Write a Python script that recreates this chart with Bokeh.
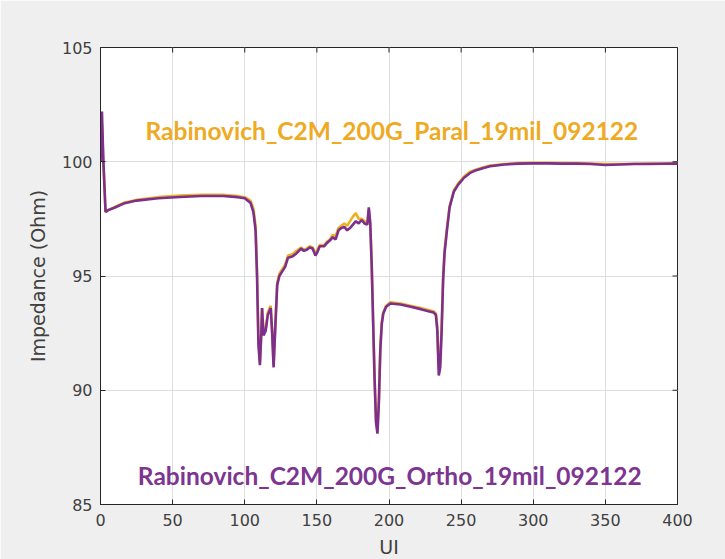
import math
from bokeh.plotting import figure
from bokeh.models import Range1d, FixedTicker, Label
from bokeh.embed import file_html
from bokeh.resources import INLINE

# ---- data ----
ui = [0, 1, 2, 3.5, 5, 10, 16, 25, 40, 55, 70, 85, 95, 100, 104, 106, 107.5,
      108.5, 109.5, 110.5, 111.5, 112, 113, 114.5, 116, 118, 119, 120, 121,
      122.5, 124, 126, 128, 130, 133, 136, 139, 141, 143, 145, 147, 149, 150,
      152, 155, 157, 159, 161, 163, 165, 167, 169, 171, 173, 175, 177, 179,
      181, 183, 185, 186, 187, 188, 189, 190, 191, 192, 193, 194, 195, 196,
      198, 201, 208, 215, 222, 228, 231, 232.5, 233.5, 234.5, 235.5, 236.5,
      237.5, 238.5, 240, 242, 245, 248, 252, 256, 260, 265, 270, 280, 290,
      300, 310, 320, 330, 340, 350, 360, 370, 380, 390, 400]

ortho = [100.0, 102.2, 100.0, 97.8, 97.87, 98.0, 98.17, 98.3, 98.4, 98.46,
         98.5, 98.5, 98.45, 98.4, 98.2, 97.8, 97.0,
         95.0, 92.0, 91.1, 92.5, 93.6, 92.4, 92.6, 93.3, 93.6, 92.5, 91.0, 92.5,
         94.6, 95.0, 95.2, 95.4, 95.8, 95.85, 96.0, 96.2, 96.1, 96.15, 96.25, 96.2, 95.9, 96.0,
         96.3, 96.3, 96.45, 96.55, 96.7, 96.6, 97.0, 97.1, 97.15, 97.0, 97.1, 97.25, 97.4, 97.3,
         97.45, 97.3, 97.25, 98.0, 97.3, 95.5, 93.0, 90.5, 88.6, 88.1, 89.5, 91.8, 92.9, 93.35,
         93.65, 93.8, 93.75, 93.65, 93.55, 93.45, 93.4, 93.3, 92.6, 90.65, 91.0, 92.6,
         94.8, 96.0, 96.9, 98.0, 98.7, 99.0, 99.3, 99.5, 99.62, 99.72, 99.8, 99.88, 99.92,
         99.93, 99.93, 99.92, 99.92, 99.9, 99.86, 99.88, 99.9, 99.9, 99.91, 99.92]

paral = [100.0, 101.6, 100.0, 97.8, 97.87, 98.02, 98.2, 98.33, 98.45, 98.52,
         98.55, 98.55, 98.5, 98.45, 98.3, 97.95, 97.2,
         95.3, 92.2, 91.2, 92.6, 93.6, 92.5, 92.7, 93.4, 93.7, 92.6, 91.1, 92.6,
         94.7, 95.1, 95.3, 95.5, 95.9, 95.95, 96.1, 96.25, 96.15, 96.2, 96.3, 96.25, 96.0, 96.1,
         96.35, 96.35, 96.5, 96.6, 96.8, 96.75, 97.1, 97.2, 97.3, 97.2, 97.4, 97.6, 97.75, 97.5,
         97.5, 97.4, 97.35, 97.9, 97.3, 95.5, 93.0, 90.5, 88.7, 88.2, 89.6, 91.9, 93.0, 93.4,
         93.7, 93.85, 93.8, 93.7, 93.6, 93.5, 93.45, 93.35, 92.8, 90.9, 91.2, 92.8,
         94.9, 96.1, 97.0, 98.05, 98.75, 99.05, 99.35, 99.55, 99.65, 99.75, 99.83, 99.9, 99.94,
         99.95, 99.95, 99.94, 99.94, 99.92, 99.9, 99.9, 99.91, 99.92, 99.92, 99.93]

x_ticks = [0, 50, 100, 150, 200, 250, 300, 350, 400]
y_ticks = [85, 90, 95, 100, 105]
x_min, x_max = 0, 400
y_min, y_max = 85, 105

paral_name = "Rabinovich_C2M_200G_Paral_19mil_092122"
ortho_name = "Rabinovich_C2M_200G_Ortho_19mil_092122"
paral_label_pos = (202, 101.37)
ortho_label_pos = (200.5, 86.27)

ORANGE = "#EDB120"
PURPLE = "#7E2F8E"
AX = "#262626"
TICK_FONT = "DejaVu Sans"

p = figure(frame_width=577, frame_height=457,
           min_border_left=100, min_border_right=48,
           min_border_top=47, min_border_bottom=55,
           x_range=Range1d(x_min, x_max), y_range=Range1d(y_min, y_max),
           output_backend="svg", toolbar_location=None,
           background_fill_color="white", border_fill_color="#efefef")

p.outline_line_color = AX
p.outline_line_width = 1

p.xgrid.ticker = FixedTicker(ticks=x_ticks)
p.ygrid.ticker = FixedTicker(ticks=y_ticks)
p.grid.grid_line_color = "#dedede"
p.grid.grid_line_width = 1

p.line(ui, paral, line_color=ORANGE, line_width=2.6)
p.line(ui, ortho, line_color=PURPLE, line_width=2.6)

# inward ticks on the top and right edges of the box
p.ray(x=x_ticks, y=[y_max] * len(x_ticks), length=5, length_units="screen",
      angle=-math.pi / 2, line_color=AX, line_width=1)
p.ray(x=[x_max] * len(y_ticks), y=y_ticks, length=5, length_units="screen",
      angle=math.pi, line_color=AX, line_width=1)

p.xaxis.ticker = FixedTicker(ticks=x_ticks)
p.yaxis.ticker = FixedTicker(ticks=y_ticks)
p.axis.minor_tick_line_color = None
p.axis.major_tick_in = 5
p.axis.major_tick_out = 0
p.axis.axis_line_color = AX
p.axis.major_tick_line_color = AX
p.axis.major_label_text_font = TICK_FONT
p.axis.major_label_text_font_size = "16px"
p.axis.major_label_text_color = "#404040"
p.axis.axis_label_text_font = TICK_FONT
p.axis.axis_label_text_font_size = "19px"
p.axis.axis_label_text_font_style = "normal"
p.axis.axis_label_text_color = "#404040"

p.xaxis.axis_label = "UI"
p.yaxis.axis_label = "Impedance (Ohm)"
p.xaxis.major_label_standoff = 9
p.xaxis.axis_label_standoff = 7
p.yaxis.major_label_standoff = 8
p.yaxis.axis_label_standoff = 10

p.add_layout(Label(x=paral_label_pos[0], y=paral_label_pos[1], text=paral_name,
                   text_align="center", text_baseline="middle",
                   text_font="Lato", text_font_style="bold",
                   text_font_size="24.5px", text_color="#EEAA22"))
p.add_layout(Label(x=ortho_label_pos[0], y=ortho_label_pos[1], text=ortho_name,
                   text_align="center", text_baseline="middle",
                   text_font="Lato", text_font_style="bold",
                   text_font_size="24.5px", text_color="#7D3590"))

open("out.html", "w").write(file_html(p, INLINE))
